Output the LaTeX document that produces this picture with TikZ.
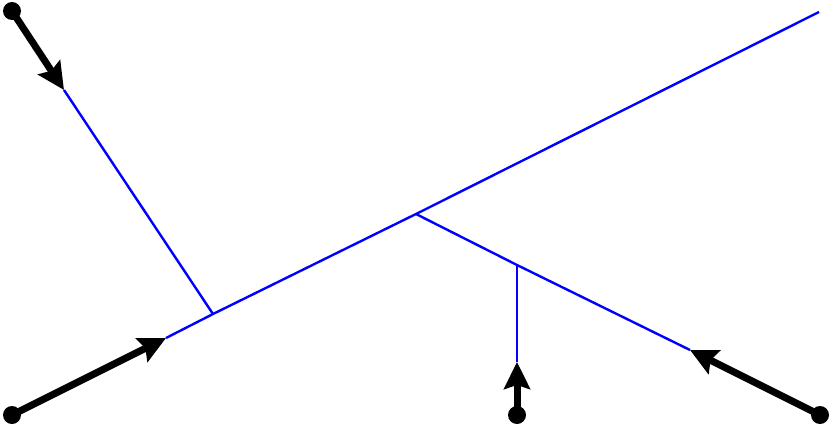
\documentclass[tikz,border=0pt]{standalone}
\usetikzlibrary{arrows.meta}
\begin{document}
\begin{tikzpicture}[x=1pt,y=-1pt,
  dotnode/.style={circle,fill=black,inner sep=0pt,minimum size=18pt},
  feed/.style={line width=7pt,-{Stealth[length=27pt,width=26pt,inset=4pt]}},
  edge/.style={blue,line width=2.4pt}]
\useasboundingbox (0,0) rectangle (832,428);
\node[dotnode] (d1) at (12,11) {};
\node[dotnode] (d2) at (12,415) {};
\node[dotnode] (d3) at (517,415) {};
\node[dotnode] (d4) at (820,415) {};
\coordinate (t1) at (64,90);
\coordinate (t2) at (166,338);
\coordinate (t3) at (517,362);
\coordinate (t4) at (690,350);
\coordinate (j1) at (213,314);
\coordinate (j2) at (416,214);
\coordinate (j3) at (517,265);
\coordinate (e) at (819,12);
\draw[edge] (t1) -- (j1);
\draw[edge] (t2) -- (j1) -- (j2) -- (e);
\draw[edge] (j2) -- (j3) -- (t4);
\draw[edge] (j3) -- (t3);
\draw[feed] (d1.center) -- (t1);
\draw[feed] (d2.center) -- (t2);
\draw[feed] (d3.center) -- (t3);
\draw[feed] (d4.center) -- (t4);
\end{tikzpicture}
\end{document}
